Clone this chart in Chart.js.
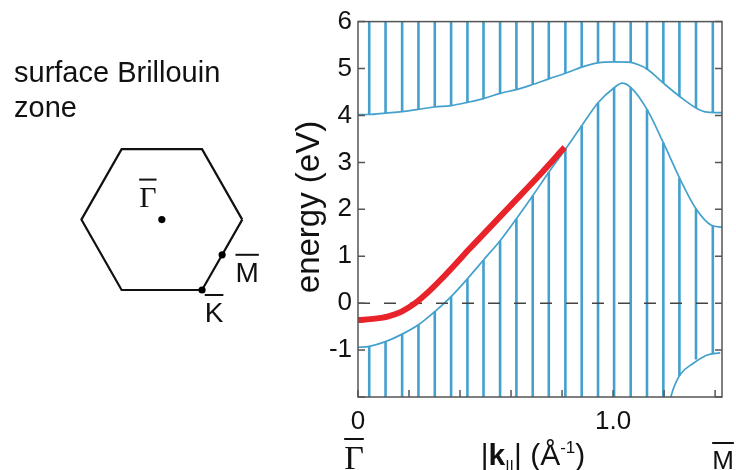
<!DOCTYPE html>
<html lang="en">
<head>
  <meta charset="UTF-8">
  <title>Surface state dispersion</title>
  <script src="https://cdn.jsdelivr.net/npm/chart.js@4.4.1/dist/chart.umd.min.js"></script>
  <style>
    html, body { margin: 0; padding: 0; background: #fff; }
    .wrap { position: relative; width: 736px; height: 470px; }
    .wrap canvas { position: absolute; left: 0; top: 0; }
  </style>
</head>
<body>
<div class="wrap">
  <canvas id="band" width="736" height="470"></canvas>
  <canvas id="zone" width="290" height="470"></canvas>
</div>

<script>
// ---- band structure data (k in 1/Angstrom, energy in eV) ----
const kMax = 1.427;
const energyTicks = [-2, -1, 0, 1, 2, 3, 4, 5, 6];
const kTicks = [0, 0.2, 0.4, 0.6, 0.8, 1.0, 1.2, 1.4];

// hatch lines of the projected bulk bands
const hatchK = [0.044, 0.108, 0.173, 0.237, 0.301, 0.365, 0.429, 0.492, 0.557, 0.621, 0.685,
                0.748, 0.813, 0.877, 0.941, 1.004, 1.069, 1.133, 1.197, 1.260, 1.325, 1.391];
const hatchUpperFrom = [4.02, 4.05, 4.08, 4.13, 4.18, 4.21, 4.28, 4.36, 4.47, 4.55, 4.66,
                        4.78, 4.90, 5.03, 5.12, 5.14, 5.13, 4.97, 4.69, 4.41, 4.16, 4.07];
const hatchLowerTop = [-0.92, -0.82, -0.66, -0.46, -0.18, 0.14, 0.52, 0.92, 1.33, 1.80, 2.29,
                       2.79, 3.28, 3.78, 4.27, 4.59, 4.60, 4.13, 3.42, 2.66, 2.01, 1.65];
const hatchLowerBottom = [-2, -2, -2, -2, -2, -2, -2, -2, -2, -2, -2,
                          -2, -2, -2, -2, -2, -2, -2, -2, -1.55, -1.20, -1.08];

// band edges
const upperEdgeK = [0, 0.044, 0.108, 0.173, 0.237, 0.301, 0.365, 0.429, 0.492, 0.557, 0.621, 0.685,
                    0.748, 0.813, 0.877, 0.941, 1.004, 1.069, 1.10, 1.133, 1.197, 1.26, 1.325, 1.37, 1.427];
const upperEdgeE = [4.02, 4.02, 4.05, 4.08, 4.13, 4.18, 4.21, 4.28, 4.36, 4.47, 4.55, 4.66,
                    4.78, 4.90, 5.03, 5.12, 5.14, 5.13, 5.08, 4.99, 4.69, 4.41, 4.16, 4.07, 4.06];
const lowerEdgeK = [0, 0.044, 0.108, 0.173, 0.237, 0.301, 0.365, 0.429, 0.492, 0.557, 0.621, 0.685,
                    0.748, 0.813, 0.877, 0.941, 1.004, 1.035, 1.069, 1.133, 1.197, 1.263, 1.325, 1.385, 1.427];
const lowerEdgeE = [-0.94, -0.92, -0.82, -0.66, -0.46, -0.18, 0.14, 0.52, 0.92, 1.33, 1.80, 2.29,
                    2.79, 3.28, 3.78, 4.27, 4.59, 4.69, 4.60, 4.13, 3.42, 2.64, 2.01, 1.66, 1.62];
const cornerEdgeK = [1.226, 1.238, 1.263, 1.315, 1.367, 1.42];
const cornerEdgeE = [-2.0, -1.80, -1.52, -1.28, -1.11, -1.06];

// surface state (red)
const surfK = [0, 0.067, 0.119, 0.171, 0.224, 0.276, 0.328, 0.38, 0.439, 0.518, 0.6, 0.7, 0.81];
const surfE = [-0.36, -0.33, -0.28, -0.18, 0.0, 0.24, 0.52, 0.82, 1.17, 1.62, 2.09, 2.66, 3.32];

// ---- surface Brillouin zone (units of |Gamma-K|) ----
const hexX = [1, 0.5, -0.5, -1, -0.5, 0.5, 1];
const hexY = [0, 0.866, 0.866, 0, -0.866, -0.866, 0];
const symNames = ['Γ', 'M', 'K'];
const symX = [0, 0.75, 0.5];
const symY = [0, -0.433, -0.866];

const blue = '#44a0cc';
const sans = '"Liberation Sans", Arial, sans-serif';
const serif = '"Liberation Serif", "Times New Roman", serif';

function pts(xs, ys) {
  return xs.map((x, i) => ({ x: x, y: ys[i] }));
}
function hatch(xs, a, b) {
  const out = [];
  xs.forEach((x, i) => {
    out.push({ x: x, y: a[i] }, { x: x, y: b[i] }, { x: x, y: null });
  });
  return out;
}
// text with a bar on top
function barText(ctx, text, cx, base, font, capH) {
  ctx.font = font;
  const w = ctx.measureText(text).width;
  ctx.textAlign = 'center';
  ctx.textBaseline = 'alphabetic';
  ctx.fillText(text, cx, base);
  ctx.fillRect(cx - w / 2, base - capH - 9, w, 2);
}

const bandDecor = {
  id: 'bandDecor',
  afterDraw(chart) {
    const { ctx, chartArea: a, scales: { x, y } } = chart;
    ctx.save();
    ctx.strokeStyle = '#555';
    ctx.lineWidth = 1.5;
    ctx.strokeRect(a.left, a.top, a.right - a.left, a.bottom - a.top);
    // inward ticks
    ctx.beginPath();
    energyTicks.forEach(v => {
      const py = y.getPixelForValue(v);
      ctx.moveTo(a.left, py); ctx.lineTo(a.left + 7, py);
      ctx.moveTo(a.right, py); ctx.lineTo(a.right - 7, py);
    });
    kTicks.forEach(v => {
      const px = x.getPixelForValue(v);
      ctx.moveTo(px, a.bottom); ctx.lineTo(px, a.bottom - 7);
    });
    ctx.stroke();

    ctx.fillStyle = '#111';
    // y axis title
    ctx.save();
    ctx.translate(310, 207);
    ctx.rotate(-Math.PI / 2);
    ctx.font = '33px ' + sans;
    ctx.textAlign = 'center';
    ctx.textBaseline = 'middle';
    ctx.fillText('energy (eV)', 0, 0);
    ctx.restore();

    // symmetry points under the axis
    barText(ctx, 'Γ', x.getPixelForValue(0) - 4, 469, '34px ' + serif, 22);
    barText(ctx, 'M', x.getPixelForValue(kMax) + 1, 469, '26px ' + sans, 18);

    // |k_||| (Å^-1)
    const parts = [
      ['|', '30px ' + sans, 0],
      ['k', 'bold 30px ' + sans, 0],
      ['||', '17px ' + sans, 7],
      ['|', '30px ' + sans, 0],
      [' (Å', '30px ' + sans, 0],
      ['-1', '17px ' + sans, -12],
      [')', '30px ' + sans, 0]
    ];
    let total = 0;
    parts.forEach(p => { ctx.font = p[1]; total += ctx.measureText(p[0]).width; });
    let cx = 533 - total / 2;
    ctx.textAlign = 'left';
    ctx.textBaseline = 'alphabetic';
    parts.forEach(p => {
      ctx.font = p[1];
      ctx.fillText(p[0], cx, 465 + p[2]);
      cx += ctx.measureText(p[0]).width;
    });
    ctx.restore();
  }
};

new Chart(document.getElementById('band'), {
  type: 'scatter',
  data: {
    datasets: [
      { data: pts(surfK, surfE), showLine: true, borderColor: '#e8242a', borderWidth: 6,
        borderCapStyle: 'butt', cubicInterpolationMode: 'monotone', pointRadius: 0 },
      { data: pts([0, kMax], [0, 0]), showLine: true, borderColor: '#444', borderWidth: 1.5,
        borderDash: [12, 14], pointRadius: 0 },
      { data: pts(upperEdgeK, upperEdgeE), showLine: true, borderColor: blue, borderWidth: 1.7,
        cubicInterpolationMode: 'monotone', pointRadius: 0 },
      { data: pts(lowerEdgeK, lowerEdgeE), showLine: true, borderColor: blue, borderWidth: 1.7,
        cubicInterpolationMode: 'monotone', pointRadius: 0 },
      { data: pts(cornerEdgeK, cornerEdgeE), showLine: true, borderColor: blue, borderWidth: 1.7,
        cubicInterpolationMode: 'monotone', pointRadius: 0 },
      { data: hatch(hatchK, hatchUpperFrom, hatchK.map(() => 6)), showLine: true, spanGaps: false,
        borderColor: blue, borderWidth: 2.6, borderCapStyle: 'butt', pointRadius: 0 },
      { data: hatch(hatchK, hatchLowerTop, hatchLowerBottom), showLine: true, spanGaps: false,
        borderColor: blue, borderWidth: 2.6, borderCapStyle: 'butt', pointRadius: 0 }
    ]
  },
  options: {
    responsive: false,
    animation: false,
    layout: { padding: { left: 290, right: 14, top: 17, bottom: 0 } },
    plugins: { legend: { display: false }, tooltip: { enabled: false } },
    scales: {
      x: {
        type: 'linear',
        min: 0,
        max: kMax,
        grid: { display: false, drawTicks: false },
        border: { display: false },
        afterBuildTicks: s => { s.ticks = kTicks.map(v => ({ value: v })); },
        afterFit: s => { s.height = 73; },
        ticks: {
          autoSkip: false,
          maxRotation: 0,
          padding: 9,
          color: '#111',
          font: { family: sans, size: 26 },
          callback: v => (v === 0 ? '0' : Math.abs(v - 1) < 1e-9 ? '1.0' : '')
        }
      },
      y: {
        min: -2,
        max: 6,
        grid: { display: false, drawTicks: false },
        border: { display: false },
        afterBuildTicks: s => { s.ticks = energyTicks.map(v => ({ value: v })); },
        afterFit: s => { s.width = 68; },
        ticks: {
          padding: 6,
          color: '#111',
          font: { family: sans, size: 26 },
          callback: v => (v === -2 ? '' : String(v))
        }
      }
    }
  },
  plugins: [bandDecor]
});

const zoneDecor = {
  id: 'zoneDecor',
  afterDraw(chart) {
    const { ctx, scales: { x, y } } = chart;
    ctx.save();
    ctx.fillStyle = '#111';
    ctx.font = '29px ' + sans;
    ctx.textAlign = 'left';
    ctx.textBaseline = 'alphabetic';
    ctx.fillText('surface Brillouin', 14, 82);
    ctx.fillText('zone', 14, 117);

    const px = symX.map(v => x.getPixelForValue(v));
    const py = symY.map(v => y.getPixelForValue(v));
    barText(ctx, symNames[0], px[0] - 14, py[0] - 13, '30px ' + serif, 19);
    barText(ctx, symNames[1], px[1] + 25, py[1] + 27, '28px ' + sans, 19);
    barText(ctx, symNames[2], px[2] + 12, py[2] + 32, '28px ' + sans, 19);
    ctx.restore();
  }
};

new Chart(document.getElementById('zone'), {
  type: 'scatter',
  data: {
    datasets: [
      { data: pts(symX, symY), pointRadius: 3.6, pointBackgroundColor: '#000',
        pointBorderWidth: 0, showLine: false },
      { data: pts(hexX, hexY), showLine: true, borderColor: '#111', borderWidth: 2.2,
        borderJoinStyle: 'miter', pointRadius: 0 }
    ]
  },
  options: {
    responsive: false,
    animation: false,
    layout: { padding: 0 },
    plugins: { legend: { display: false }, tooltip: { enabled: false } },
    scales: {
      x: { type: 'linear', display: false, min: -1.9625, max: 1.544 },
      y: { type: 'linear', display: false, min: -3.031, max: 2.652 }
    }
  },
  plugins: [zoneDecor]
});
</script>
</body>
</html>
